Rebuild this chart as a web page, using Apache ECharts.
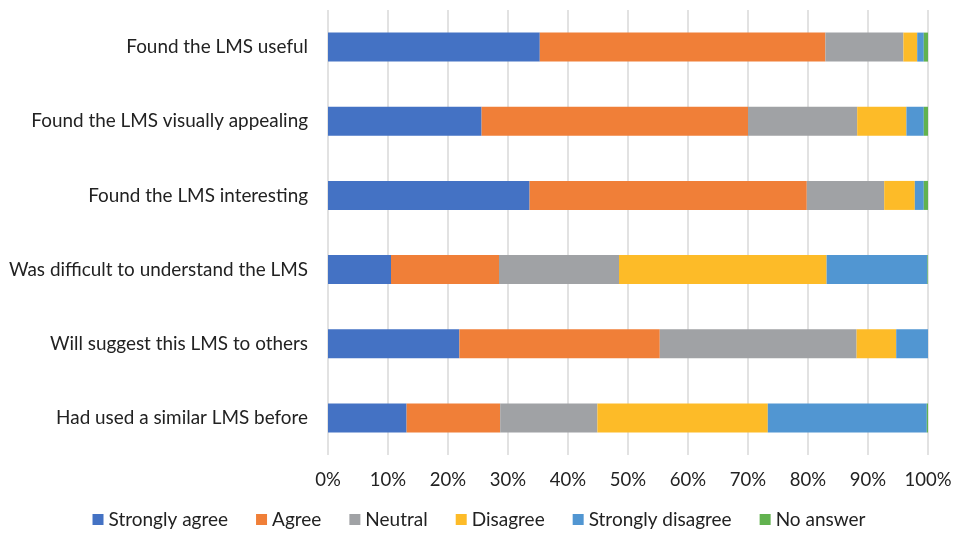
<!DOCTYPE html>
<html>
<head>
<meta charset="utf-8">
<script src="https://cdn.jsdelivr.net/npm/echarts@6/dist/echarts.min.js"></script>
<style>
  html, body { margin: 0; padding: 0; background: #fff; }
  #chart { width: 958px; height: 535px; }
</style>
</head>
<body>
<div id="chart"></div>
<script>
// statements, top to bottom
const categories = [
  'Found the LMS useful',
  'Found the LMS visually appealing',
  'Found the LMS interesting',
  'Was difficult to understand the LMS',
  'Will suggest this LMS to others',
  'Had used a similar LMS before'
];

// percent of answers per statement
const stronglyAgree    = [35.3, 25.6, 33.6, 10.5, 21.9, 13.1];
const agree            = [47.6, 44.4, 46.2, 18.0, 33.4, 15.6];
const neutral          = [13.0, 18.2, 12.9, 20.0, 32.8, 16.2];
const disagree         = [2.3, 8.2, 5.1, 34.6, 6.6, 28.4];
const stronglyDisagree = [1.1, 2.9, 1.5, 16.8, 5.3, 26.5];
const noAnswer         = [0.7, 0.7, 0.7, 0.1, 0.0, 0.2];

const seriesNames = ['Strongly agree', 'Agree', 'Neutral', 'Disagree', 'Strongly disagree', 'No answer'];
const seriesData = [stronglyAgree, agree, neutral, disagree, stronglyDisagree, noAnswer];
const colors = ['#4472C4', '#F07F38', '#A0A2A5', '#FDBB28', '#5196D2', '#62B24F'];

const font = 'Lato, "Open Sans", sans-serif';

const chart = echarts.init(document.getElementById('chart'), null, { renderer: 'canvas' });

chart.setOption({
  animation: false,
  color: colors,
  grid: { left: 328, right: 30, top: 10, bottom: 80, containLabel: false },
  legend: {
    bottom: 1,
    left: 'center',
    itemWidth: 11,
    itemHeight: 11,
    itemGap: 28,
    icon: 'rect',
    textStyle: { fontFamily: font, fontSize: 19, color: '#222' },
    data: seriesNames
  },
  xAxis: {
    type: 'value',
    min: 0,
    max: 100,
    interval: 10,
    axisLine: { show: false },
    axisTick: { show: false },
    axisLabel: { formatter: '{value}%', fontFamily: font, fontSize: 18.5, color: '#222', margin: 16 },
    splitLine: { lineStyle: { color: '#d9d9d9', width: 1.5 } }
  },
  yAxis: {
    type: 'category',
    inverse: true,
    data: categories,
    axisLine: { show: false },
    axisTick: { show: false },
    axisLabel: { fontFamily: font, fontSize: 18.9, color: '#222', margin: 20 }
  },
  series: seriesNames.map((name, i) => ({
    name: name,
    type: 'bar',
    stack: 'total',
    barWidth: 29,
    data: seriesData[i]
  }))
});
</script>
</body>
</html>
